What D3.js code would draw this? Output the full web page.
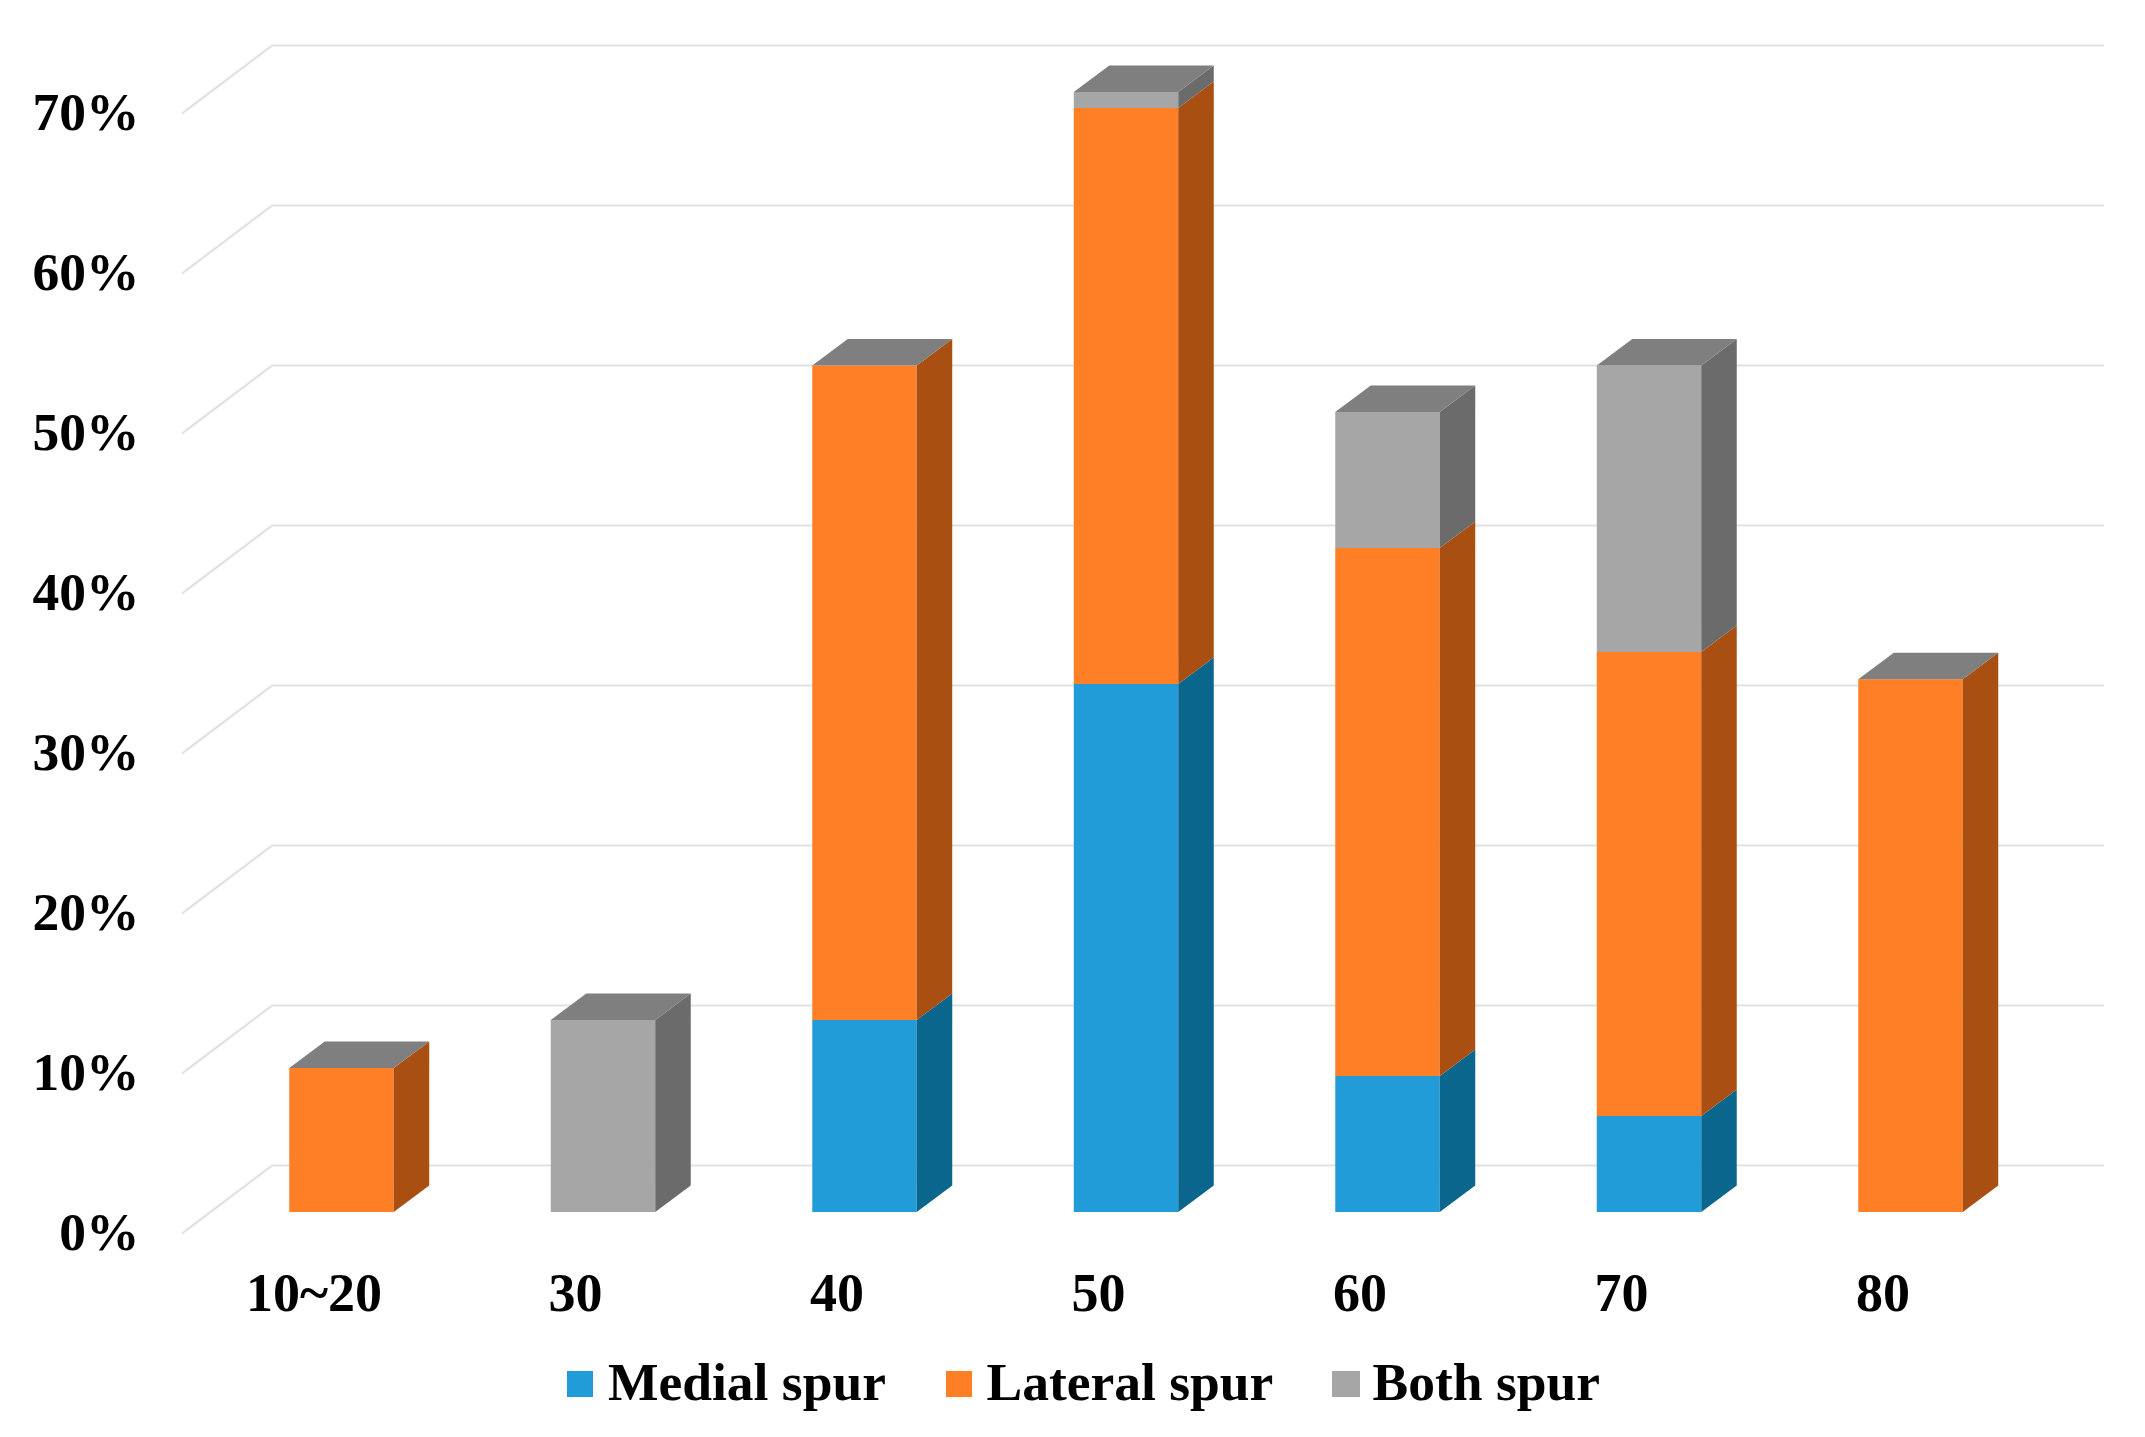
<!DOCTYPE html>
<html>
<head>
<meta charset="utf-8">
<script src="https://cdn.jsdelivr.net/npm/d3@7/dist/d3.min.js"></script>
<style>
html,body{margin:0;padding:0;background:#fff}
svg{display:block}
text{font-family:"Liberation Serif",serif;font-weight:bold;fill:#000}
</style>
</head>
<body>
<svg id="c" width="2145" height="1437"></svg>
<script>
const categories = ["10~20","30","40","50","60","70","80"];
const seriesNames = ["Medial spur","Lateral spur","Both spur"];
const medial  = [0,0,12,33,8.5,6,0];
const lateral = [9,0,40.9,36,33,29,33.3];
const both    = [0,12,0,1,8.5,17.9,0];
const yTicks  = [0,10,20,30,40,50,60,70];
const faceColors = ["#229BD9","#FF7F27","#A6A6A6"];
const sideColors = ["#0B668E","#A94F11","#6B6B6B"];
const topColor = "#7F7F7F";

const svg = d3.select("#c");
const baseY = 1212, perTen = 160;
const y = d3.scaleLinear().domain([0,70]).range([baseY, baseY - 7*perTen]);
const pad = 0.6005;
const x = d3.scaleBand().domain(categories).range([210.75,2041.25]).paddingInner(pad).paddingOuter(pad/2);
const dx = 35.5, dy = 26.5;

// walls: grid lines
const backUp = 46.5, frontDown = 21.5, backX = 272, frontX = 182, rightX = 2104;
svg.append("g").selectAll("path").data(yTicks).join("path")
  .attr("d", v => d3.line()([[frontX, y(v)+frontDown],[backX, y(v)-backUp],[rightX, y(v)-backUp]]))
  .attr("fill","none").attr("stroke","#E2E2E2").attr("stroke-width",2.2);

// stacked bars
const rows = categories.map((c,i)=>({cat:c, s0:medial[i], s1:lateral[i], s2:both[i]}));
const stacked = d3.stack().keys(["s0","s1","s2"])(rows);
const gBars = svg.append("g");
rows.forEach((r,i)=>{
  const bx = x(r.cat), bw = x.bandwidth();
  stacked.forEach((layer,k)=>{
    const [a,b] = layer[i];
    if (b-a <= 0) return;
    gBars.append("rect").attr("x",bx).attr("y",y(b)).attr("width",bw).attr("height",y(a)-y(b)).attr("fill",faceColors[k]);
    gBars.append("path").attr("d", d3.line()([[bx+bw,y(a)],[bx+bw+dx,y(a)-dy],[bx+bw+dx,y(b)-dy],[bx+bw,y(b)]])+"Z").attr("fill",sideColors[k]);
  });
  const total = stacked[2][i][1];
  gBars.append("path").attr("d", d3.line()([[bx,y(total)],[bx+dx,y(total)-dy],[bx+bw+dx,y(total)-dy],[bx+bw,y(total)]])+"Z").attr("fill",topColor);
});

// axes
const yAxis = d3.axisLeft(y).tickValues(yTicks).tickSize(0).tickPadding(0).tickFormat(d=>d+"%");
const gy = svg.append("g").attr("transform","translate(139.5,37)").call(yAxis);
gy.select(".domain").remove();
gy.selectAll("text").attr("dy",0).style("font-family",'"Liberation Serif",serif').style("font-size","53.5px").style("font-weight","bold").attr("fill","#000");

const xAxis = d3.axisBottom(x).tickSize(0).tickPadding(0);
const gx = svg.append("g").attr("transform","translate(-27.5,1311)").call(xAxis);
gx.select(".domain").remove();
gx.selectAll("text").attr("dy",0).attr("y",0).style("font-family",'"Liberation Serif",serif').style("font-size","54px").style("font-weight","bold").attr("fill","#000");

// legend
const legendX = [567,946,1332];
const legendW = [26,26,28];
const legendTextX = [608,986.5,1372.5];
const gl = svg.append("g");
seriesNames.forEach((n,i)=>{
  gl.append("rect").attr("x",legendX[i]).attr("y",1371).attr("width",legendW[i]).attr("height",26).attr("fill",faceColors[i]);
  gl.append("text").attr("x",legendTextX[i]).attr("y",1400).attr("font-size",53.5).text(n);
});
</script>
</body>
</html>
